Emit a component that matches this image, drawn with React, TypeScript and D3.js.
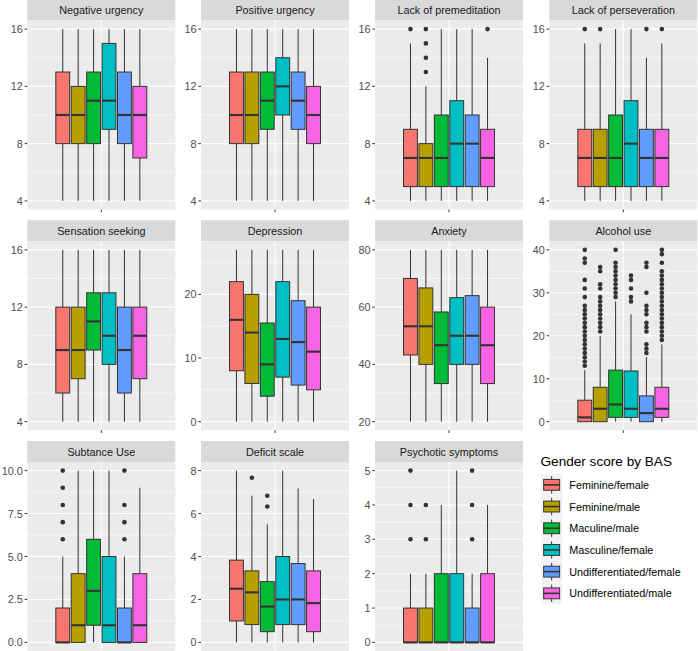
import * as d3 from "d3";

const groups = [
  "Feminine/female",
  "Feminine/male",
  "Maculine/male",
  "Masculine/female",
  "Undifferentiated/female",
  "Undifferentiated/male",
];
const colors = ["#F8766D", "#B79F00", "#00BA38", "#00BFC4", "#619CFF", "#F564E3"];

// per group: [lower whisker, Q1, median, Q3, upper whisker]
const negativeUrgencyStats = [
  [4, 8, 10, 13, 16], [4, 8, 10, 12, 16], [4, 8, 11, 13, 16],
  [4, 9, 11, 15, 16], [4, 8, 10, 13, 16], [4, 7, 10, 12, 16],
];
const positiveUrgencyStats = [
  [4, 8, 10, 13, 16], [4, 8, 10, 13, 16], [4, 9, 11, 13, 16],
  [4, 10, 12, 14, 16], [4, 9, 11, 13, 16], [4, 8, 10, 12, 16],
];
const premeditationStats = [
  [4, 5, 7, 9, 15], [4, 5, 7, 8, 12], [4, 5, 7, 10, 16],
  [4, 5, 8, 11, 16], [4, 5, 8, 10, 16], [4, 5, 7, 9, 14],
];
const premeditationOutliers = [[16], [13, 14, 15, 16], [], [], [], [16]];
const perseverationStats = [
  [4, 5, 7, 9, 15], [4, 5, 7, 9, 15], [4, 5, 7, 10, 16],
  [4, 5, 8, 11, 16], [4, 5, 7, 9, 14], [4, 5, 7, 9, 15],
];
const perseverationOutliers = [[16], [16], [], [], [16], [16]];
const sensationStats = [
  [4, 6, 9, 12, 16], [4, 7, 9, 12, 16], [4, 9, 11, 13, 16],
  [4, 8, 10, 13, 16], [4, 6, 9, 12, 16], [4, 7, 10, 12, 16],
];
const depressionStats = [
  [0, 8, 16, 22, 27], [0, 6, 14, 20, 27], [0, 4, 9, 15.5, 27],
  [0, 7, 13, 22, 27], [0, 5.75, 12.5, 19, 27], [0, 5, 11, 18, 27],
];
const anxietyStats = [
  [20, 43.3, 53.3, 70, 80], [20, 40, 53.3, 66.7, 80], [20, 33.3, 46.7, 58.3, 80],
  [20, 40, 50, 63.3, 80], [20, 40, 50, 64, 80], [20, 33.3, 46.7, 60, 80],
];
const alcoholStats = [
  [0, 0, 1, 5, 12], [0, 0, 3, 8, 20], [0, 1, 4, 12, 28],
  [0, 1, 3, 11.8, 25], [0, 0, 2, 6, 15], [0, 1, 3, 8, 18],
];
const alcoholOutliers = [
  [13, 14, 15, 16, 17, 18, 19, 20, 21, 22, 23, 24, 25, 26, 27, 29, 31, 33, 37, 38, 40],
  [21, 22, 23, 24, 25, 26, 27, 28, 29, 31, 32, 35, 36],
  [29, 30, 31, 32, 33, 34, 35, 36, 37, 40],
  [28, 29, 31, 33, 34],
  [16, 17, 18, 21, 22, 23, 25, 26, 27, 30, 36, 37],
  [19, 20, 21, 22, 23, 24, 25, 26, 27, 28, 29, 30, 31, 32, 33, 34, 35, 37, 39, 40],
];
const substanceStats = [
  [0, 0, 0, 2, 5], [0, 0, 1, 4, 10], [0, 1, 3, 6, 10],
  [0, 0, 1, 5, 10], [0, 0, 0, 2, 5], [0, 0, 1, 4, 9],
];
const substanceOutliers = [[6, 7, 8, 9, 10], [], [], [], [6, 7, 8, 10], []];
const deficitStats = [
  [0, 1, 2.5, 3.83, 8], [0, 0.83, 2.33, 3.33, 6.83], [0, 0.5, 1.67, 2.83, 5.5],
  [0, 0.83, 2, 4, 8], [0, 0.83, 2, 3.67, 7.17], [0, 0.5, 1.83, 3.33, 6.67],
];
const deficitOutliers = [[], [7.67], [6.33, 6.83], [], [], []];
const psychoticStats = [
  [0, 0, 0, 1, 2], [0, 0, 0, 1, 2], [0, 0, 0, 2, 4],
  [0, 0, 0, 2, 5], [0, 0, 0, 1, 2], [0, 0, 0, 2, 4],
];
const psychoticOutliers = [[3, 4, 5], [3, 4], [], [], [3, 4, 5], []];

const ticks4to16 = ["4", "8", "12", "16"];
const depressionTicks = ["0", "10", "20"];
const anxietyTicks = ["20", "40", "60", "80"];
const alcoholTicks = ["0", "10", "20", "30", "40"];
const substanceTicks = ["0.0", "2.5", "5.0", "7.5", "10.0"];
const deficitTicks = ["0", "2", "4", "6", "8"];
const psychoticTicks = ["0", "1", "2", "3", "4", "5"];

const none = [[], [], [], [], [], []];

const panels = [
  { title: "Negative urgency", stats: negativeUrgencyStats, outliers: none, ticks: ticks4to16 },
  { title: "Positive urgency", stats: positiveUrgencyStats, outliers: none, ticks: ticks4to16 },
  { title: "Lack of premeditation", stats: premeditationStats, outliers: premeditationOutliers, ticks: ticks4to16 },
  { title: "Lack of perseveration", stats: perseverationStats, outliers: perseverationOutliers, ticks: ticks4to16 },
  { title: "Sensation seeking", stats: sensationStats, outliers: none, ticks: ticks4to16 },
  { title: "Depression", stats: depressionStats, outliers: none, ticks: depressionTicks },
  { title: "Anxiety", stats: anxietyStats, outliers: none, ticks: anxietyTicks },
  { title: "Alcohol use", stats: alcoholStats, outliers: alcoholOutliers, ticks: alcoholTicks },
  { title: "Subtance Use", stats: substanceStats, outliers: substanceOutliers, ticks: substanceTicks },
  { title: "Deficit scale", stats: deficitStats, outliers: deficitOutliers, ticks: deficitTicks },
  { title: "Psychotic symptoms", stats: psychoticStats, outliers: psychoticOutliers, ticks: psychoticTicks },
];

const W = 698;
const H = 651;
const colLefts = [27.3, 201, 375, 549.3];
const panelW = 148;
const panelH = 189;
const stripH = 21;
const rowTop = (r: number) => 20.5 + r * 220.75;
const font = "'Liberation Sans', Arial, sans-serif";
const dark = "#333333";

function Panel({ p, i }: { p: (typeof panels)[number]; i: number }) {
  const col = i % 4;
  const row = Math.floor(i / 4);
  const left = colLefts[col];
  const top = rowTop(row);
  const bottom = top + panelH;

  const values = p.stats.flat().concat(p.outliers.flat());
  const [lo, hi] = d3.extent(values) as [number, number];
  const pad = (hi - lo) * 0.05;
  const y = d3.scaleLinear().domain([lo - pad, hi + pad]).range([bottom, top]);
  const x = d3.scaleLinear().domain([0.4, 1.6]).range([left, left + panelW]);
  const band = d3
    .scaleBand<string>()
    .domain(groups)
    .range([x(1 - 0.375), x(1 + 0.375)])
    .paddingInner(0.1)
    .paddingOuter(0.05);

  const majors = p.ticks.map(Number);
  const step = majors[1] - majors[0];
  const minors = d3
    .range(majors[0] - step / 2, majors[majors.length - 1] + step, step)
    .filter((v) => v > lo - pad && v < hi + pad);

  return (
    <g>
      <rect x={left} y={top - stripH} width={panelW} height={stripH} fill="#D9D9D9" />
      <text
        x={left + panelW / 2}
        y={top - stripH / 2}
        textAnchor="middle"
        dominantBaseline="central"
        fontSize={10.8}
        fill="#1A1A1A"
      >
        {p.title}
      </text>
      <rect x={left} y={top} width={panelW} height={panelH} fill="#EBEBEB" />
      {minors.map((v) => (
        <line key={"m" + v} x1={left} x2={left + panelW} y1={y(v)} y2={y(v)} stroke="#fff" strokeWidth={0.55} />
      ))}
      {majors.map((v) => (
        <line key={"M" + v} x1={left} x2={left + panelW} y1={y(v)} y2={y(v)} stroke="#fff" strokeWidth={1.1} />
      ))}
      <line x1={x(1)} x2={x(1)} y1={top} y2={bottom} stroke="#fff" strokeWidth={1.1} />
      {p.stats.map((s, g) => {
        const bx = band(groups[g]) as number;
        const bw = band.bandwidth();
        const cx = bx + bw / 2;
        const [wl, q1, med, q3, wh] = s;
        return (
          <g key={g}>
            <line x1={cx} x2={cx} y1={y(q3)} y2={y(wh)} stroke={dark} strokeWidth={1} />
            <line x1={cx} x2={cx} y1={y(q1)} y2={y(wl)} stroke={dark} strokeWidth={1} />
            <rect
              x={bx}
              y={y(q3)}
              width={bw}
              height={Math.max(0, y(q1) - y(q3))}
              fill={colors[g]}
              stroke={dark}
              strokeWidth={1}
            />
            <line x1={bx} x2={bx + bw} y1={y(med)} y2={y(med)} stroke={dark} strokeWidth={2.1} />
            {p.outliers[g].map((o, k) => (
              <circle key={k} cx={cx} cy={y(o)} r={2.3} fill={dark} />
            ))}
          </g>
        );
      })}
      {p.ticks.map((t) => (
        <g key={"t" + t}>
          <line x1={left - 2.7} x2={left} y1={y(+t)} y2={y(+t)} stroke={dark} strokeWidth={1} />
          <text
            x={left - 4.6}
            y={y(+t)}
            textAnchor="end"
            dominantBaseline="central"
            fontSize={10.8}
            fill="#4D4D4D"
          >
            {t}
          </text>
        </g>
      ))}
      <line x1={x(1)} x2={x(1)} y1={bottom} y2={bottom + 2.7} stroke={dark} strokeWidth={1} />
    </g>
  );
}

function Legend() {
  const lx = 541;
  const top = 474;
  const kw = 21.3;
  const kh = 21.7;
  return (
    <g>
      <text x={540.5} y={466} fontSize={13.6} fill="#000">
        Gender score by BAS
      </text>
      {groups.map((g, i) => {
        const ky = top + i * kh;
        const cx = lx + kw / 2;
        return (
          <g key={g}>
            <rect x={lx} y={ky} width={kw} height={kh} fill="#F2F2F2" />
            <line x1={cx} x2={cx} y1={ky + kh * 0.1} y2={ky + kh * 0.25} stroke={dark} strokeWidth={1} />
            <line x1={cx} x2={cx} y1={ky + kh * 0.75} y2={ky + kh * 0.9} stroke={dark} strokeWidth={1} />
            <rect
              x={lx + kw * 0.125}
              y={ky + kh * 0.25}
              width={kw * 0.75}
              height={kh * 0.5}
              fill={colors[i]}
              stroke={dark}
              strokeWidth={1}
            />
            <line x1={lx + kw * 0.125} x2={lx + kw * 0.875} y1={ky + kh / 2} y2={ky + kh / 2} stroke={dark} strokeWidth={1.6} />
            <text x={569.3} y={ky + kh / 2} dominantBaseline="central" fontSize={10.8} fill="#000">
              {g}
            </text>
          </g>
        );
      })}
    </g>
  );
}

export default function App() {
  return (
    <svg
      width={W}
      height={H}
      viewBox={`0 0 ${W} ${H}`}
      style={{ position: "absolute", left: 0, top: 0, background: "#fff" }}
      fontFamily={font}
    >
      <rect width={W} height={H} fill="#fff" />
      {panels.map((p, i) => (
        <Panel key={p.title} p={p} i={i} />
      ))}
      <Legend />
    </svg>
  );
}
